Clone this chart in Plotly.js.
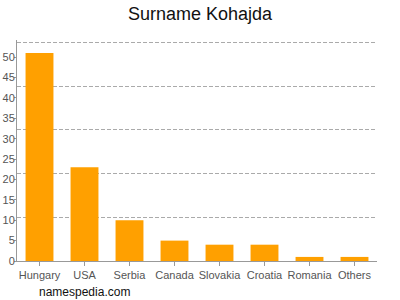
<!DOCTYPE html>
<html><head><meta charset="utf-8">
<script src="https://cdn.plot.ly/plotly-3.0.1.min.js"></script>
<style>html,body{margin:0;padding:0;background:#fff;}#chart{width:400px;height:300px;}</style>
</head><body><div id="chart"></div>
<script>
const categories = ["Hungary","USA","Serbia","Canada","Slovakia","Croatia","Romania","Others"];
const counts = [51, 23, 10, 5, 4, 4, 1, 1];
const yTicks = [0,5,10,15,20,25,30,35,40,45,50];

const data = [
  {type:'bar', x:categories, y:counts, marker:{color:'#FFA000'}, width:0.62, hoverinfo:'none'},
  {type:'scatter', x:[categories[0]], y:[0], yaxis:'y2', mode:'markers', marker:{opacity:0}, showlegend:false, hoverinfo:'none'}
];
const layout = {
  width:400, height:300,
  margin:{l:17, r:23, t:40, b:39},
  paper_bgcolor:'#fff', plot_bgcolor:'#fff',
  showlegend:false,
  font:{family:'Liberation Sans, Arial, sans-serif', color:'#555', size:11},
  title:{text:'Surname Kohajda', x:0.5, xanchor:'center', y:0.955, yanchor:'middle', font:{size:18, color:'#111'}},
  xaxis:{type:'category', showline:true, linecolor:'#999', linewidth:1, ticks:'outside', ticklen:4, tickcolor:'#999', showgrid:false, tickfont:{size:11, color:'#555'}, fixedrange:true},
  yaxis:{range:[0,54.2], tickvals:yTicks, showline:true, linecolor:'#999', linewidth:1, ticks:'outside', ticklen:2, tickcolor:'#999', showgrid:false, zeroline:false, tickfont:{size:11, color:'#555'}, ticklabelstandoff:-3, automargin:false},
  yaxis2:{overlaying:'y', range:[0,5.06], dtick:1, showgrid:true, gridcolor:'#aaa', griddash:'4px,2px', gridwidth:1, showticklabels:false, zeroline:false, showline:false, ticks:''},
  annotations:[{text:'namespedia.com', xref:'paper', yref:'paper', x:37/360 - 17/360, y:-0.14, xanchor:'left', yanchor:'middle', showarrow:false, font:{size:12, color:'#111'}}]
};
Plotly.newPlot('chart', data, layout, {staticPlot:true, displayModeBar:false});
</script></body></html>
